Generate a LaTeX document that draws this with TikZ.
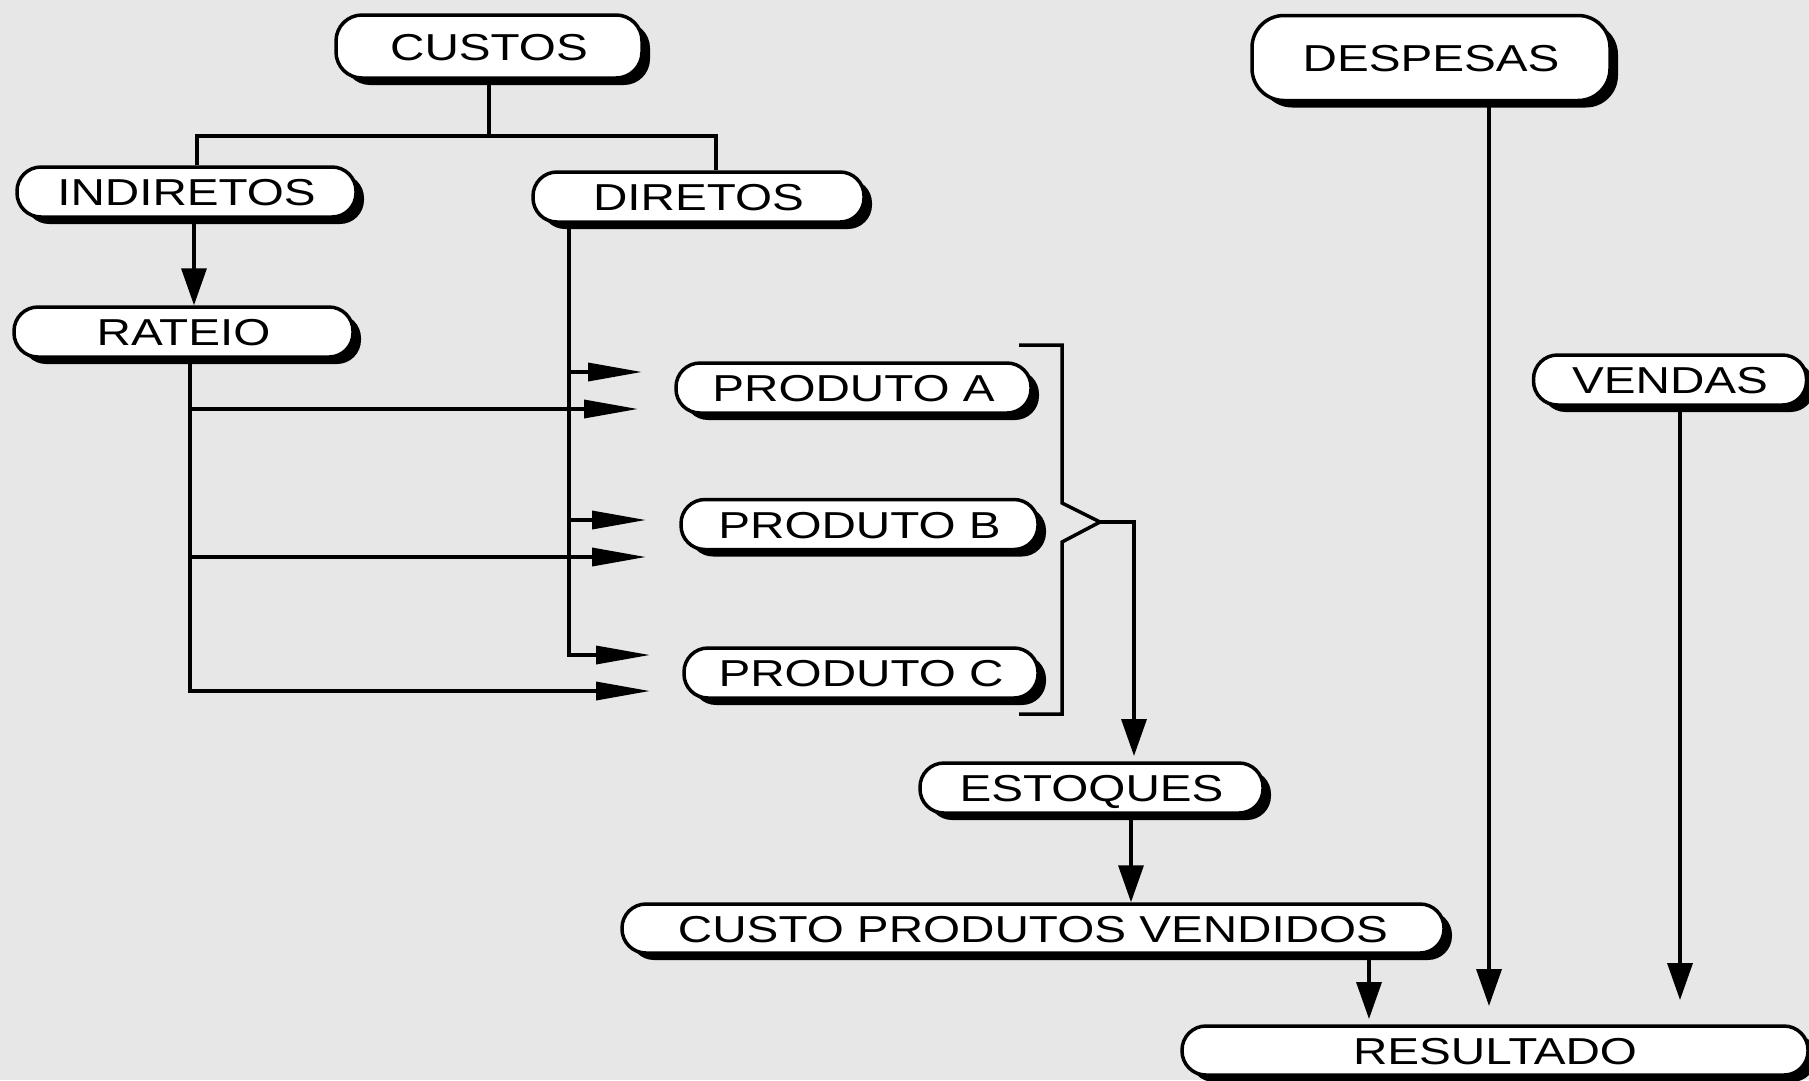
\documentclass[tikz,border=0pt]{standalone}
\usepackage{fontspec}
\newfontfamily\boxfont[FakeStretch=1.27]{Liberation Sans}
\usetikzlibrary{arrows.meta,shadows}

\definecolor{paper}{RGB}{231,231,231}

\tikzset{
  box/.style={draw, line width=3.5pt, fill=white, rounded corners=24pt,
    minimum height=50pt, inner sep=0pt, text height=27pt, text depth=0pt,
    font=\boxfont\fontsize{37.5}{40}\selectfont,
    drop shadow={shadow xshift=8pt, shadow yshift=-7pt, fill=black, opacity=1}},
  wire/.style={line width=3.5pt},
  harrow/.style={line width=3.5pt, -{Triangle[length=54pt, width=18pt]}},
  varrow/.style={line width=3.5pt, -{Triangle[length=37pt, width=25pt]}}
}

\begin{document}
\begin{tikzpicture}[x=1pt, y=-1pt]
\def \width   {1809};
\def \height  {1080};

\def \xrtrunk {190};
\def \xdtrunk {569};
\def \xbrl    {1019};
\def \xbr     {1062};
\def \xbrtip  {1100};
\def \xfork   {1134};

\def \ybrtop  {345};
\def \ybrbot  {714};
\def \ybrtip  {522};
\def \ysplit  {136};

\useasboundingbox (0, 0) rectangle (\width, \height);
\fill [paper] (0, 0) rectangle (\width, \height);

% boxes
\node [box, minimum width=306pt, minimum height=63pt, rounded corners=26pt] (custos) at (489, 46.5) {CUSTOS};
\node [box, minimum width=358pt, minimum height=85pt, rounded corners=32pt] (despesas) at (1431, 58) {DESPESAS};
\node [box, minimum width=339pt] (indiretos) at (186.5, 192) {INDIRETOS};
\node [box, minimum width=331pt] (diretos) at (698.5, 197) {DIRETOS};
\node [box, minimum width=339pt] (rateio) at (183.5, 332) {RATEIO};
\node [box, minimum width=355pt] (prodA) at (853.5, 388) {PRODUTO A};
\node [box, minimum width=357pt] (prodB) at (859.5, 524.5) {PRODUTO B};
\node [box, minimum width=354pt] (prodC) at (861, 673) {PRODUTO C};
\node [box, minimum width=273pt] (vendas) at (1670, 380) {VENDAS};
\node [box, minimum width=343pt] (estoques) at (1091.5, 788) {ESTOQUES};
\node [box, minimum width=822pt, minimum height=49pt] (cpv) at (1033, 928.5) {CUSTO PRODUTOS VENDIDOS};
\node [box, minimum width=626pt, minimum height=49pt] (resultado) at (1495, 1050.5) {RESULTADO};

% split of costs
\coordinate (split) at (489, \ysplit);
\draw [wire] (custos) -- (split);
\draw [wire] ([xshift=10.5pt]indiretos.north) |- (split) -| ([xshift=17.5pt]diretos.north);
\draw [varrow] ([xshift=7.5pt]indiretos.south) -- ([xshift=10.5pt]rateio.north);

% rateio to products
\coordinate (rjA) at (\xrtrunk, 409);
\coordinate (rjB) at (\xrtrunk, 557);
\coordinate (rinA) at (638, 409);
\coordinate (rinB) at (646, 557);
\coordinate (rinC) at (650, 691);
\draw [harrow] ([xshift=6.5pt]rateio.south) |- (rinC);
\draw [harrow] (rjA) -- (rinA);
\draw [harrow] (rjB) -- (rinB);

% diretos to products
\coordinate (djA) at (\xdtrunk, 372);
\coordinate (djB) at (\xdtrunk, 520);
\coordinate (dinA) at (642, 372);
\coordinate (dinB) at (646, 520);
\coordinate (dinC) at (650, 655);
\draw [harrow] ([xshift=-129.5pt]diretos.south) |- (dinC);
\draw [harrow] (djA) -- (dinA);
\draw [harrow] (djB) -- (dinB);

% bracket
\coordinate (brtip) at (\xbrtip, \ybrtip);
\draw [wire] (\xbrl, \ybrtop) -- (\xbr, \ybrtop) -- (\xbr, 503) -- (brtip) -- (\xbr, 542) -- (\xbr, \ybrbot) -- (\xbrl, \ybrbot);
\coordinate (estin) at (\xfork, 756);
\draw [varrow] (brtip) -| (estin);

% to resultado
\draw [varrow] ([xshift=39.5pt]estoques.south) -- ([xshift=98pt]cpv.north);
\coordinate (resC) at (1369, 1019);
\coordinate (resD) at (1489, 1006);
\coordinate (resV) at (1680, 1000);
\draw [varrow] ([xshift=336pt]cpv.south) -- (resC);
\draw [varrow] ([xshift=58pt]despesas.south) -- (resD);
\draw [varrow] ([xshift=10pt]vendas.south) -- (resV);

\end{tikzpicture}
\end{document}
